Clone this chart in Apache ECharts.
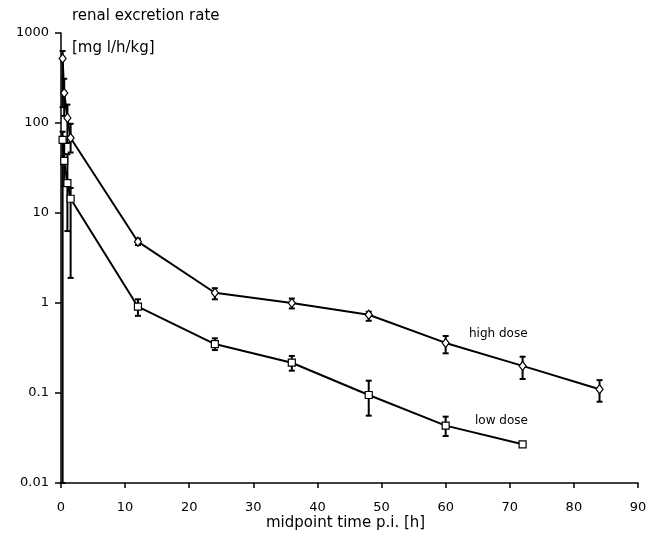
<!DOCTYPE html>
<html>
<head>
<meta charset="utf-8">
<script src="https://cdn.jsdelivr.net/npm/echarts@6/dist/echarts.min.js"></script>
<style>html,body{margin:0;padding:0;background:#fff;}#c{width:655px;height:537px;}</style>
</head>
<body>
<div id="c"></div>
<script>
// Data
const xTicks = [0, 10, 20, 30, 40, 50, 60, 70, 80, 90];
const yTickLabels = ['0.01', '0.1', '1', '10', '100', '1000'];

const tHigh = [0.25, 0.5, 1, 1.5, 12, 24, 36, 48, 60, 72, 84];
const highDose = [520, 215, 114, 68, 4.8, 1.3, 1.0, 0.74, 0.36, 0.20, 0.11];
const highLo = [150, 120, 60, 47, 4.4, 1.10, 0.87, 0.635, 0.276, 0.143, 0.080];
const highHi = [630, 310, 160, 98, 5.2, 1.46, 1.12, 0.80, 0.43, 0.253, 0.139];

const tLow = [0.25, 0.5, 1, 1.5, 12, 24, 36, 48, 60, 72];
const lowDose = [65, 38, 21.5, 14.4, 0.91, 0.35, 0.217, 0.095, 0.0434, 0.0269];
const lowLo = [0.01, 20, 6.3, 1.9, 0.72, 0.30, 0.177, 0.056, 0.0333, 0.0262];
const lowHi = [80, 60, 45, 19, 1.10, 0.405, 0.258, 0.137, 0.0546, 0.0276];

const FONT = '"DejaVu Sans", sans-serif';

function errRender(params, api) {
  const x = api.value(0);
  const p1 = api.coord([x, api.value(1)]);
  const p2 = api.coord([x, api.value(2)]);
  const hw = 3;
  const st = { stroke: '#000', lineWidth: 2 };
  return {
    type: 'group',
    children: [
      { type: 'line', shape: { x1: p1[0], y1: p1[1], x2: p2[0], y2: p2[1] }, style: st },
      { type: 'line', shape: { x1: p1[0] - hw, y1: p1[1], x2: p1[0] + hw, y2: p1[1] }, style: st },
      { type: 'line', shape: { x1: p2[0] - hw, y1: p2[1], x2: p2[0] + hw, y2: p2[1] }, style: st }
    ]
  };
}

const chart = echarts.init(document.getElementById('c'), null, { renderer: 'canvas' });
chart.setOption({
  animation: false,
  backgroundColor: '#fff',
  grid: { left: 61, right: 17, top: 33, bottom: 54 },
  xAxis: {
    type: 'value', min: 0, max: 90, interval: 10,
    splitLine: { show: false },
    axisLine: { lineStyle: { color: '#000', width: 1.5 } },
    axisTick: { show: true, inside: false, length: 5, lineStyle: { color: '#000', width: 1.5 } },
    axisLabel: { color: '#000', fontSize: 13, fontFamily: FONT, margin: 18,
      formatter: v => xTicks.indexOf(v) >= 0 ? String(v) : '' }
  },
  yAxis: {
    type: 'log', logBase: 10, min: 0.01, max: 1000,
    splitLine: { show: false },
    axisLine: { lineStyle: { color: '#000', width: 1.5 } },
    axisTick: { show: true, inside: false, length: 6, lineStyle: { color: '#000', width: 1.5 } },
    axisLabel: { color: '#000', fontSize: 13, fontFamily: FONT, margin: 12,
      formatter: v => {
        const e = Math.round(Math.log10(v));
        return yTickLabels[e + 2] || '';
      } }
  },
  graphic: [
    { type: 'text', left: 72, top: 9, style: { text: 'renal excretion rate', font: '15px ' + FONT, fill: '#000' } },
    { type: 'text', left: 72, top: 41, style: { text: '[mg l/h/kg]', font: '15px ' + FONT, fill: '#000' } },
    { type: 'text', left: 266, top: 516, style: { text: 'midpoint time p.i. [h]', font: '15px ' + FONT, fill: '#000' } },
    { type: 'text', left: 469, top: 328, style: { text: 'high dose', font: '12px ' + FONT, fill: '#000' } },
    { type: 'text', left: 475, top: 415, style: { text: 'low dose', font: '12px ' + FONT, fill: '#000' } }
  ],
  series: [
    {
      type: 'custom', name: 'high err', renderItem: errRender, z: 3,
      data: tHigh.map((t, i) => [t, highLo[i], highHi[i]])
    },
    {
      type: 'custom', name: 'low err', renderItem: errRender, z: 3,
      data: tLow.map((t, i) => [t, lowLo[i], lowHi[i]])
    },
    {
      type: 'line', name: 'high dose', z: 4,
      data: tHigh.map((t, i) => [t, highDose[i]]),
      symbol: 'diamond', symbolSize: [7, 9], showAllSymbol: true,
      lineStyle: { color: '#000', width: 2 },
      itemStyle: { color: '#fff', borderColor: '#000', borderWidth: 1.2 }
    },
    {
      type: 'line', name: 'low dose', z: 4,
      data: tLow.map((t, i) => [t, lowDose[i]]),
      symbol: 'rect', symbolSize: 7, showAllSymbol: true,
      lineStyle: { color: '#000', width: 2 },
      itemStyle: { color: '#fff', borderColor: '#000', borderWidth: 1.2 }
    }
  ]
});
</script>
</body>
</html>
